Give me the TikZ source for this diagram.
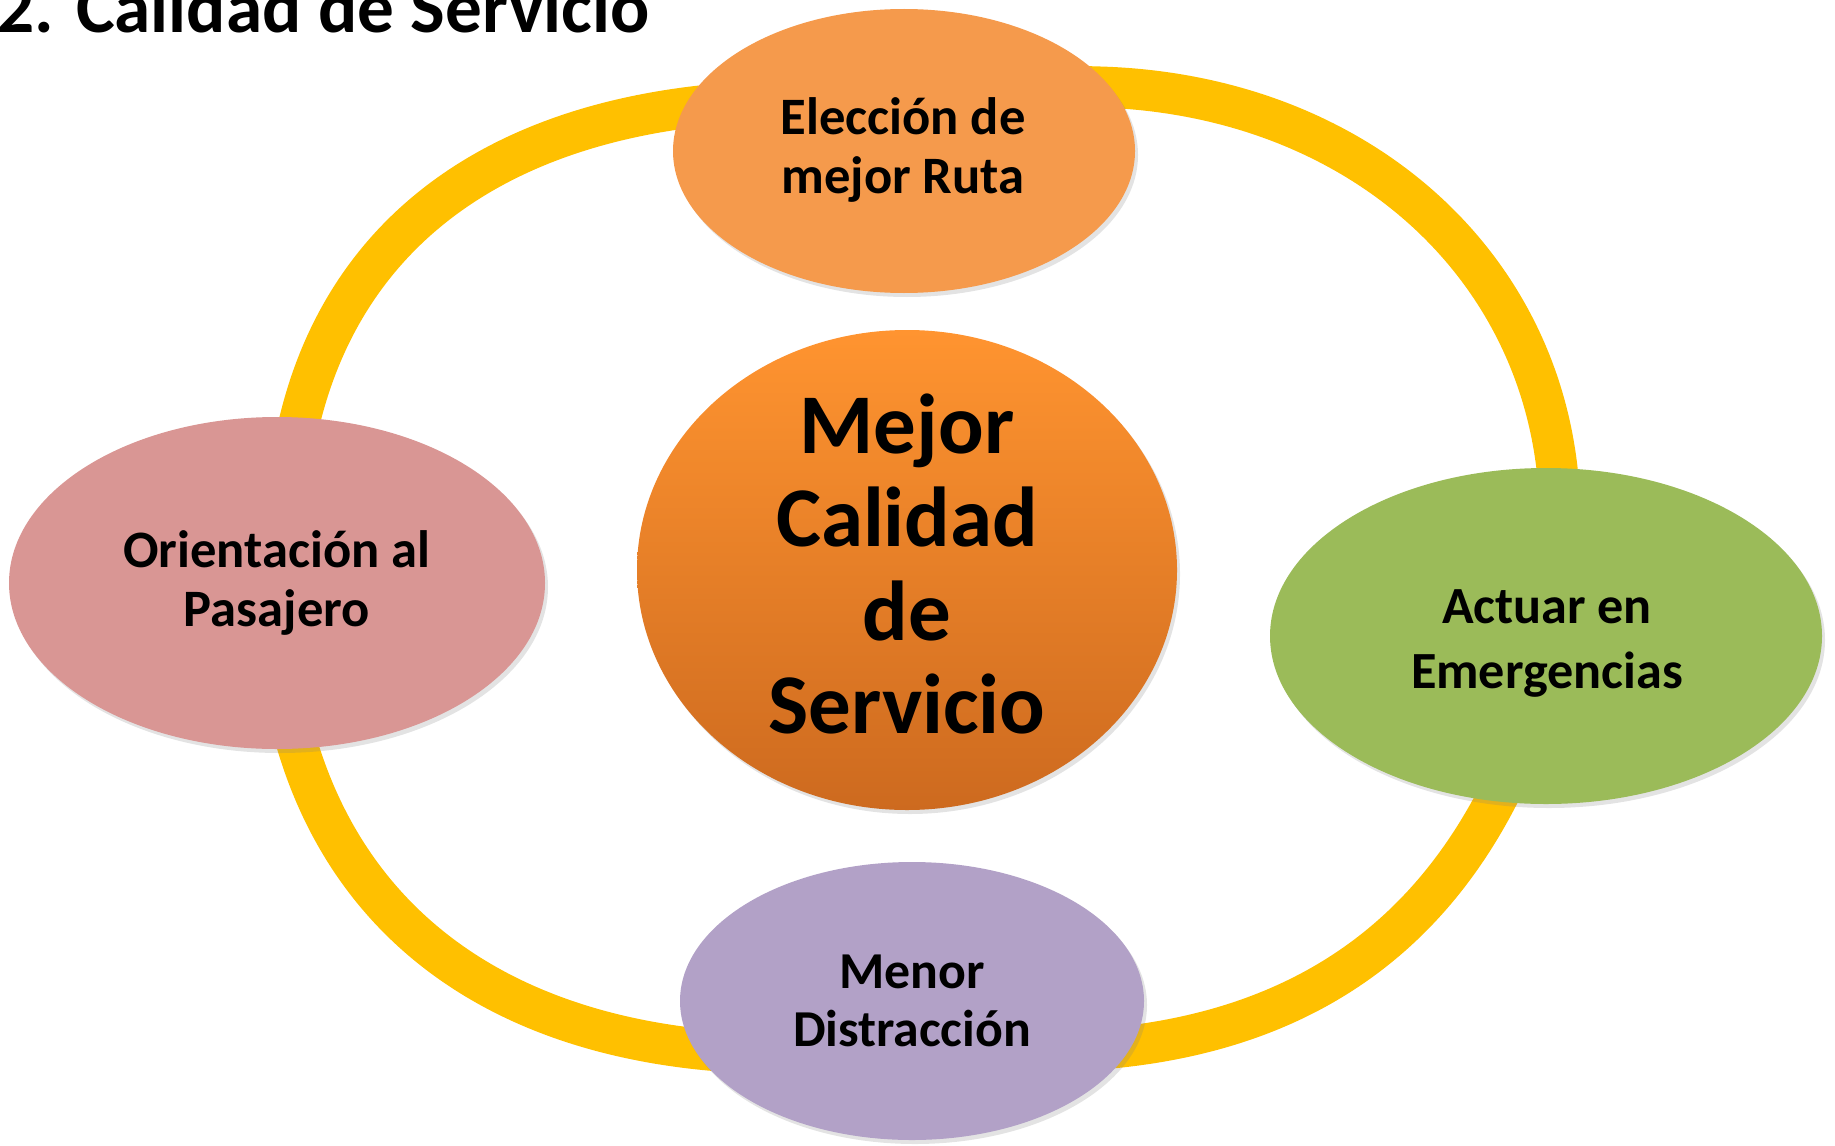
\documentclass[tikz,border=0pt]{standalone}
\usepackage{fontspec}
\setmainfont{Carlito}
\usetikzlibrary{shapes.geometric,shadows}
\definecolor{ringc}{HTML}{FFC000}
\definecolor{topc}{HTML}{F59A4C}
\definecolor{pinkc}{HTML}{D99694}
\definecolor{greenc}{HTML}{9BBB59}
\definecolor{purplec}{HTML}{B2A1C7}
\definecolor{ctop}{HTML}{FF9430}
\definecolor{cbot}{HTML}{CD6A1F}
\begin{document}
\begin{tikzpicture}[x=0.5pt,y=-0.5pt,
  ringarc/.style={draw=ringc, line width=20.5pt},
  bubble/.style={ellipse, inner sep=0pt, draw=none,
    drop shadow={shadow xshift=1.5pt, shadow yshift=-2pt, opacity=0.22}},
  lbl/.style={align=center, inner sep=0pt,
    font=\bfseries\fontsize{26.3}{29.2}\selectfont}]
\useasboundingbox (0,0) rectangle (1835,1145);
\clip (0,0) rectangle (1835,1145);

% title
\node[anchor=base west, inner sep=0pt,
  font=\bfseries\fontsize{36.6}{40}\selectfont] (title) at (-3,33) {2. Calidad de Servicio};

% ring arcs
\draw[ringarc] (284,520) -- (289,480) .. controls (316,257) and (470,126) .. (720,104) -- (780,98.6);
\draw[ringarc] (1000,84) -- (1100,87) .. controls (1366.8,95) and (1560,276.9) .. (1560,520) -- (1560,560);
\draw[ringarc] (1533,718) -- (1515,760) .. controls (1437.8,937.6) and (1300.9,1032.9) .. (1100,1049) -- (1040,1054);
\draw[ringarc] (278,660) -- (286,700) .. controls (329,910) and (484,1032.4) .. (720,1051) -- (780,1056);

% nodes
\node[bubble, fill=topc, minimum width=231pt, minimum height=142pt] (nTop) at (904,151) {};
\node[lbl] (tTop) at (903,150) {Elección de\\mejor Ruta};

\node[bubble, top color=ctop, bottom color=cbot, minimum width=270pt, minimum height=240pt] (nCore) at (907,570) {};
\node[lbl, font=\bfseries\fontsize{42.5}{46.75}\selectfont] (tCore) at (907,564) {Mejor\\Calidad\\de\\Servicio};

\node[bubble, fill=pinkc, minimum width=268pt, minimum height=166pt] (nLeft) at (277,583) {};
\node[lbl] (tLeft) at (277,583) {Orientación al\\Pasajero};

\node[bubble, fill=greenc, minimum width=276pt, minimum height=168pt] (nRight) at (1546,636) {};
\node[lbl, font=\bfseries\fontsize{26.1}{32.5}\selectfont] (tRight) at (1547,643) {Actuar en\\Emergencias};

\node[bubble, fill=purplec, minimum width=232pt, minimum height=139pt] (nBottom) at (912,1001) {};
\node[lbl, font=\bfseries\fontsize{25.9}{29}\selectfont] (tBottom) at (912,1001) {Menor\\Distracción};
\end{tikzpicture}
\end{document}
